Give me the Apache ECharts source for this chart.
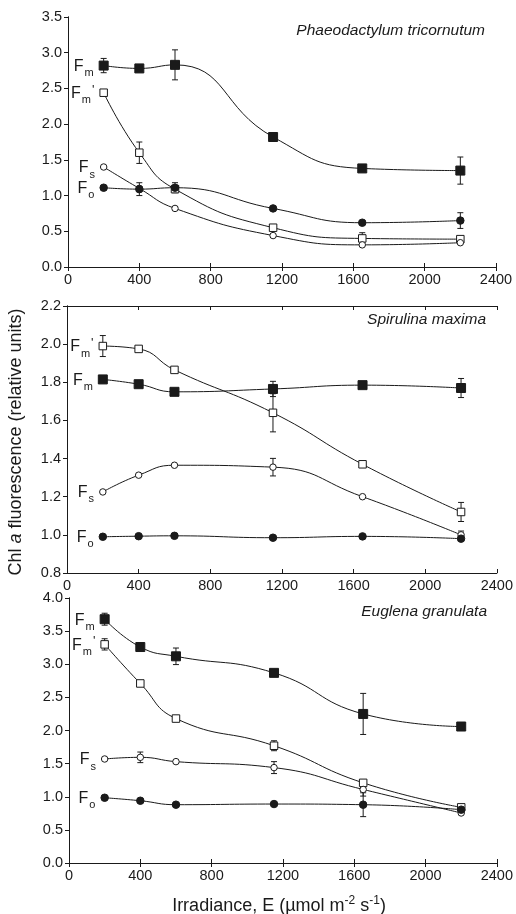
<!DOCTYPE html>
<html>
<head>
<meta charset="utf-8">
<script src="https://cdn.jsdelivr.net/npm/echarts@6/dist/echarts.min.js"></script>
<style>
html,body{margin:0;padding:0;background:#fff;}
#chart{width:516px;height:914px;}
</style>
</head>
<body>
<div id="chart"></div>
<script>
// ---- Data ----
const irradiance = [200, 400, 600, 1150, 1650, 2200];
const xTicks = [0, 400, 800, 1200, 1600, 2000, 2400];

// Phaeodactylum tricornutum
const phaeoFm     = [2.82, 2.78, 2.83, 1.82, 1.38, 1.35];
const phaeoFmErr  = [0.10, 0, 0.21, 0, 0, 0.19];
const phaeoFmp    = [2.44, 1.60, 1.09, 0.55, 0.40, 0.39];
const phaeoFmpErr = [0, 0.15, 0, 0, 0.08, 0.03];
const phaeoFs     = [1.40, 1.10, 0.82, 0.44, 0.31, 0.34];
const phaeoFsErr  = [0, 0, 0, 0, 0, 0];
const phaeoFo     = [1.11, 1.09, 1.11, 0.82, 0.62, 0.65];
const phaeoFoErr  = [0.03, 0.09, 0.07, 0, 0, 0.11];

// Spirulina maxima
const spiruFm     = [1.815, 1.79, 1.75, 1.765, 1.785, 1.77];
const spiruFmErr  = [0, 0, 0, 0.04, 0, 0.05];
const spiruFmp    = [1.99, 1.975, 1.865, 1.64, 1.37, 1.12];
const spiruFmpErr = [0.055, 0, 0, 0.10, 0.015, 0.05];
const spiruFs     = [1.225, 1.313, 1.365, 1.355, 1.20, 1.00];
const spiruFsErr  = [0, 0, 0, 0.046, 0, 0.02];
const spiruFo     = [0.99, 0.993, 0.995, 0.985, 0.992, 0.98];
const spiruFoErr  = [0, 0, 0, 0, 0, 0];

// Euglena granulata
const euglFm      = [3.68, 3.26, 3.12, 2.87, 2.25, 2.06];
const euglFmErr   = [0.09, 0, 0.125, 0, 0.31, 0];
const euglFmp     = [3.30, 2.71, 2.18, 1.77, 1.21, 0.84];
const euglFmpErr  = [0.085, 0, 0.03, 0.075, 0, 0];
const euglFs      = [1.57, 1.595, 1.53, 1.44, 1.11, 0.755];
const euglFsErr   = [0, 0.08, 0, 0.09, 0.10, 0];
const euglFo      = [0.985, 0.94, 0.88, 0.89, 0.88, 0.805];
const euglFoErr   = [0, 0, 0, 0, 0.18, 0];

const panelTitles = ['Phaeodactylum tricornutum', 'Spirulina maxima', 'Euglena granulata'];
const yRanges = [[0, 3.5, 0.5], [0.8, 2.2, 0.2], [0, 4.0, 0.5]];

// ---- Layout ----
const FONT = '"Liberation Sans", Arial, Helvetica, sans-serif';
const INK = '#1a1a1a';
const grids = [
  {left: 68, top: 17, width: 428, height: 250},
  {left: 67, top: 306, width: 430, height: 267},
  {left: 69, top: 598, width: 429, height: 265}
];

const labelRich = {
  F: {fontSize: 16, fontFamily: FONT, color: INK, lineHeight: 18, verticalAlign: 'bottom'},
  s: {fontSize: 11, fontFamily: FONT, color: INK, lineHeight: 11, verticalAlign: 'bottom', padding: [0, 0, -4, 1]},
  p: {fontSize: 13, fontFamily: FONT, color: INK, lineHeight: 18, verticalAlign: 'top', padding: [0, 0, 0, 1]}
};

const panels = [
  [
    {name: 'Fm', ys: phaeoFm, err: phaeoFmErr, sym: 'rect', fill: INK, size: 9, lab: '{F|F}{s|m}'},
    {name: "Fm'", ys: phaeoFmp, err: phaeoFmpErr, sym: 'rect', fill: '#fff', size: 7.5, lab: "{F|F}{s|m}{p|'}"},
    {name: 'Fs', ys: phaeoFs, err: phaeoFsErr, sym: 'circle', fill: '#fff', size: 6.5, lab: '{F|F}{s|s}'},
    {name: 'Fo', ys: phaeoFo, err: phaeoFoErr, sym: 'circle', fill: INK, size: 7.5, lab: '{F|F}{s|o}'}
  ],
  [
    {name: 'Fm', ys: spiruFm, err: spiruFmErr, sym: 'rect', fill: INK, size: 9, lab: '{F|F}{s|m}'},
    {name: "Fm'", ys: spiruFmp, err: spiruFmpErr, sym: 'rect', fill: '#fff', size: 7.5, lab: "{F|F}{s|m}{p|'}"},
    {name: 'Fs', ys: spiruFs, err: spiruFsErr, sym: 'circle', fill: '#fff', size: 6.5, lab: '{F|F}{s|s}'},
    {name: 'Fo', ys: spiruFo, err: spiruFoErr, sym: 'circle', fill: INK, size: 7.5, lab: '{F|F}{s|o}'}
  ],
  [
    {name: 'Fm', ys: euglFm, err: euglFmErr, sym: 'rect', fill: INK, size: 9, lab: '{F|F}{s|m}'},
    {name: "Fm'", ys: euglFmp, err: euglFmpErr, sym: 'rect', fill: '#fff', size: 7.5, lab: "{F|F}{s|m}{p|'}"},
    {name: 'Fs', ys: euglFs, err: euglFsErr, sym: 'circle', fill: '#fff', size: 6.5, lab: '{F|F}{s|s}'},
    {name: 'Fo', ys: euglFo, err: euglFoErr, sym: 'circle', fill: INK, size: 7.5, lab: '{F|F}{s|o}'}
  ]
];

const xAxes = [], yAxes = [], series = [], graphics = [];
const axisLine = {show: true, lineStyle: {color: INK, width: 1}};
const tickLbl = {color: INK, fontFamily: FONT, fontSize: 14.5};

grids.forEach((g, i) => {
  const [ymin, ymax, yint] = yRanges[i];
  xAxes.push({
    type: 'value', gridIndex: i, position: 'bottom', min: 0, max: 2400, interval: 400,
    axisLine, splitLine: {show: false},
    axisTick: {show: true, inside: true, length: 4, lineStyle: {color: INK}},
    axisLabel: Object.assign({margin: 5, formatter: v => String(v)}, tickLbl)
  });
  xAxes.push({
    type: 'value', gridIndex: i, position: 'top', min: 0, max: 2400, interval: 400,
    axisLine, splitLine: {show: false},
    axisTick: {show: true, inside: true, length: 4, lineStyle: {color: INK}},
    axisLabel: {show: false}
  });
  yAxes.push({
    type: 'value', gridIndex: i, position: 'left', min: ymin, max: ymax, interval: yint,
    axisLine, splitLine: {show: false},
    axisTick: {show: true, inside: false, length: 4, lineStyle: {color: INK}},
    axisLabel: Object.assign({margin: 6, formatter: v => v.toFixed(1)}, tickLbl)
  });
  yAxes.push({
    type: 'value', gridIndex: i, position: 'right', min: ymin, max: ymax, interval: yint,
    axisLine, splitLine: {show: false},
    axisTick: {show: true, inside: true, length: 4, lineStyle: {color: INK}},
    axisLabel: {show: false}
  });

  // error bars
  const errData = [];
  panels[i].forEach(s => {
    irradiance.forEach((x, k) => { if (s.err[k] > 0) errData.push([x, s.ys[k], s.err[k]]); });
  });
  series.push({
    type: 'custom', xAxisIndex: 2 * i, yAxisIndex: 2 * i, z: 1, silent: true,
    data: errData,
    renderItem: (params, api) => {
      const x = api.value(0), y = api.value(1), e = api.value(2);
      const hi = api.coord([x, y + e]), lo = api.coord([x, y - e]);
      const st = {stroke: INK, lineWidth: 1};
      return {type: 'group', children: [
        {type: 'line', shape: {x1: hi[0], y1: hi[1], x2: lo[0], y2: lo[1]}, style: st},
        {type: 'line', shape: {x1: hi[0] - 3, y1: hi[1], x2: hi[0] + 3, y2: hi[1]}, style: st},
        {type: 'line', shape: {x1: lo[0] - 3, y1: lo[1], x2: lo[0] + 3, y2: lo[1]}, style: st}
      ]};
    }
  });

  panels[i].forEach(s => {
    const data = irradiance.map((x, k) => {
      if (k === 0) {
        return {value: [x, s.ys[k]], label: {show: true, position: 'left', distance: 5, formatter: s.lab, rich: labelRich}};
      }
      return [x, s.ys[k]];
    });
    series.push({
      type: 'line', name: panelTitles[i] + ' ' + s.name,
      xAxisIndex: 2 * i, yAxisIndex: 2 * i, z: 3,
      smooth: 0.5, data,
      symbol: s.sym, symbolSize: s.size, showAllSymbol: true,
      lineStyle: {color: INK, width: 1},
      itemStyle: {color: s.fill, borderColor: INK, borderWidth: 1},
      label: {show: false},
      emphasis: {disabled: true},
      animation: false
    });
  });

  graphics.push({
    type: 'text', right: 516 - (g.left + g.width) + 11, top: g.top + 6,
    style: {text: panelTitles[i], font: 'italic 15.5px ' + FONT, fill: INK}
  });
});

graphics.push({
  type: 'text', x: 16, y: 442, rotation: Math.PI / 2,
  style: {
    text: '{n|Chl }{i|a}{n| fluorescence (relative units)}',
    align: 'center', verticalAlign: 'middle',
    rich: {
      n: {fontSize: 18, fontFamily: FONT, fill: INK},
      i: {fontSize: 18, fontFamily: FONT, fontStyle: 'italic', fill: INK}
    }
  }
});
graphics.push({
  type: 'text', x: 279, y: 905,
  style: {
    text: '{n|Irradiance, E (µmol m}{sup|-2}{n| s}{sup|-1}{n|)}',
    align: 'center', verticalAlign: 'middle',
    rich: {
      n: {fontSize: 18, fontFamily: FONT, fill: INK, lineHeight: 20, verticalAlign: 'bottom'},
      sup: {fontSize: 12, fontFamily: FONT, fill: INK, lineHeight: 20, verticalAlign: 'top'}
    }
  }
});

const chart = echarts.init(document.getElementById('chart'), null, {renderer: 'canvas'});
chart.setOption({
  animation: false,
  backgroundColor: '#fff',
  grid: grids.map(g => Object.assign({containLabel: false}, g)),
  xAxis: xAxes,
  yAxis: yAxes,
  series,
  graphic: graphics
});
</script>
</body>
</html>
